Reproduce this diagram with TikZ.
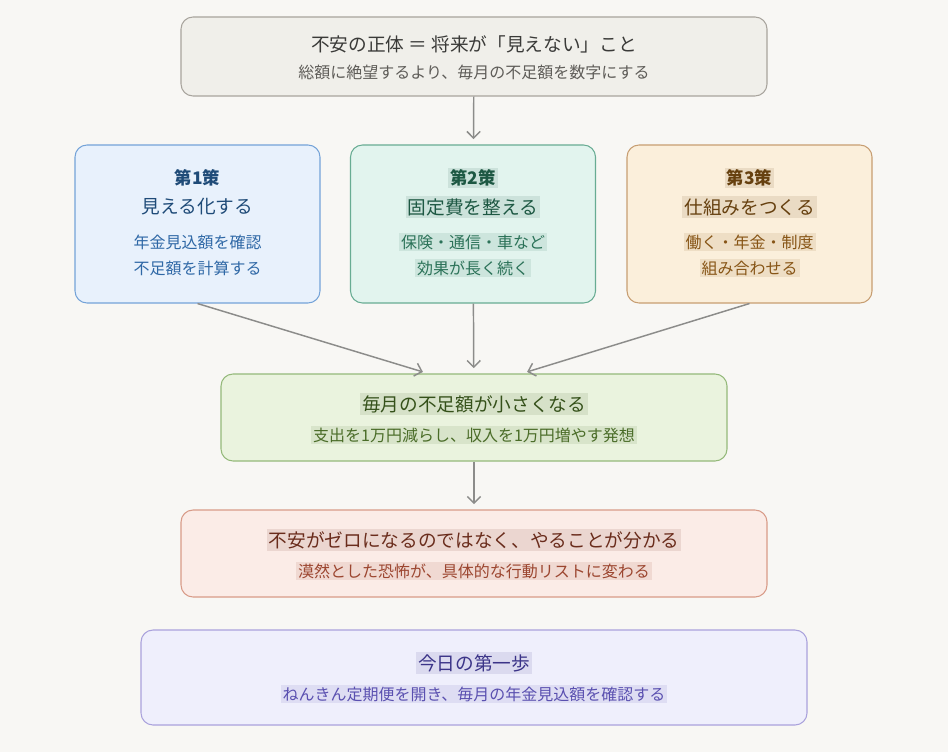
\documentclass[tikz,border=0pt]{standalone}
\usepackage{fontspec}
\setmainfont{Noto Sans CJK JP}
\usepackage{xcolor}
\usetikzlibrary{arrows.meta, positioning}
\definecolor{bgc}{HTML}{F8F7F4}
\definecolor{arrc}{HTML}{8C8C8A}
\definecolor{topfill}{HTML}{F0EFEA}\definecolor{topdraw}{HTML}{A8A49D}\definecolor{toptext}{HTML}{3A3A38}\definecolor{topsub}{HTML}{5E5C58}
\definecolor{bluefill}{HTML}{E8F1FC}\definecolor{bluedraw}{HTML}{74A3D8}\definecolor{bluetext}{HTML}{1F4B78}\definecolor{bluesub}{HTML}{2F68A6}
\definecolor{greenfill}{HTML}{E2F4EE}\definecolor{greendraw}{HTML}{68AC93}\definecolor{greentext}{HTML}{1D5843}\definecolor{greensub}{HTML}{2B7258}
\definecolor{tanfill}{HTML}{FBEFDB}\definecolor{tandraw}{HTML}{C79E72}\definecolor{tantext}{HTML}{66400F}\definecolor{tansub}{HTML}{875516}
\definecolor{limefill}{HTML}{EAF3DE}\definecolor{limedraw}{HTML}{94B97A}\definecolor{limetext}{HTML}{35511A}\definecolor{limesub}{HTML}{4A6C28}
\definecolor{rosefill}{HTML}{FBECE7}\definecolor{rosedraw}{HTML}{D89B88}\definecolor{rosetext}{HTML}{6A2C1C}\definecolor{rosesub}{HTML}{9C4630}
\definecolor{lilacfill}{HTML}{EFEFFC}\definecolor{lilacdraw}{HTML}{AAA2DC}\definecolor{lilactext}{HTML}{3B3488}\definecolor{lilacsub}{HTML}{5A50B0}

\begin{document}
\begin{tikzpicture}[x=0.75pt, y=-0.75pt,
    box/.style={draw, line width=0.8pt, rounded corners=9pt, inner sep=0pt},
    ttl/.style={inner sep=1.5pt, font=\fontsize{14}{17}\selectfont},
    sub/.style={inner sep=1.5pt, font=\fontsize{12}{14}\selectfont},
    hl/.style={fill=black, fill opacity=0.11, text opacity=1},
    arr/.style={-{Straight Barb[length=5pt, width=10pt]}, line width=1.1pt, arrc, shorten >=4pt}]

    % --- Canvas ---
    \fill[bgc] (0,0) rectangle (948,752);
    \useasboundingbox (0,0) rectangle (948,752);

    % --- Top ---
    \node[box, draw=topdraw, fill=topfill, minimum width=439.5pt, minimum height=59.25pt] (top) at (474,56.5) {};
    \node[ttl, toptext] (topT) at (474,44) {不安の正体 ＝ 将来が「見えない」こと};
    \node[sub, topsub] (topS) at (474,72) {総額に絶望するより、毎月の不足額を数字にする};

    % --- Three measures ---
    \node[box, draw=bluedraw, fill=bluefill, minimum width=183.75pt, minimum height=118.5pt] (s1) at (197.5,224) {};
    \node[ttl, bluetext, font=\fontsize{13}{16}\selectfont\bfseries] (s1a) at (197.5,178) {第1策};
    \node[ttl, bluetext] (s1b) at (197.5,207) {見える化する};
    \node[sub, bluesub] (s1c) at (197.5,242) {年金見込額を確認};
    \node[sub, bluesub] (s1d) at (197.5,268) {不足額を計算する};

    \node[box, draw=greendraw, fill=greenfill, minimum width=183.75pt, minimum height=118.5pt] (s2) at (473,224) {};
    \node[ttl, hl, greentext, font=\fontsize{13}{16}\selectfont\bfseries] (s2a) at (473,178) {第2策};
    \node[ttl, hl, greentext] (s2b) at (473,207) {固定費を整える};
    \node[sub, hl, greensub] (s2c) at (473,242) {保険・通信・車など};
    \node[sub, hl, greensub] (s2d) at (473,268) {効果が長く続く};

    \node[box, draw=tandraw, fill=tanfill, minimum width=183.75pt, minimum height=118.5pt] (s3) at (749.5,224) {};
    \node[ttl, hl, tantext, font=\fontsize{13}{16}\selectfont\bfseries] (s3a) at (749.5,178) {第3策};
    \node[ttl, hl, tantext] (s3b) at (749.5,207) {仕組みをつくる};
    \node[sub, hl, tansub] (s3c) at (749.5,242) {働く・年金・制度};
    \node[sub, hl, tansub] (s3d) at (749.5,268) {組み合わせる};

    % --- Result ---
    \node[box, draw=limedraw, fill=limefill, minimum width=379.5pt, minimum height=65.25pt] (mid) at (474,417.5) {};
    \node[ttl, hl, limetext] (midT) at (474,404) {毎月の不足額が小さくなる};
    \node[sub, hl, limesub] (midS) at (474,435) {支出を1万円減らし、収入を1万円増やす発想};

    \node[box, draw=rosedraw, fill=rosefill, minimum width=439.5pt, minimum height=65.25pt] (goal) at (474,553.5) {};
    \node[ttl, hl, rosetext] (goalT) at (474,540) {不安がゼロになるのではなく、やることが分かる};
    \node[sub, hl, rosesub] (goalS) at (474,571) {漠然とした恐怖が、具体的な行動リストに変わる};

    % --- First step ---
    \node[box, draw=lilacdraw, fill=lilacfill, minimum width=499.5pt, minimum height=71.25pt] (step1) at (474,677.5) {};
    \node[ttl, hl, lilactext] (step1T) at (474,663) {今日の第一歩};
    \node[sub, hl, lilacsub] (step1S) at (474,694) {ねんきん定期便を開き、毎月の年金見込額を確認する};

    % --- Edges ---
    \draw[arr] (top) -- (s2);
    \draw[arr] (s1.south) -- ([xshift=-34.5pt]mid.north);
    \draw[arr] (s2) -- (mid);
    \draw[arr] (s3.south) -- ([xshift=36pt]mid.north);
    \draw[arr] (mid) -- (goal);
\end{tikzpicture}
\end{document}
